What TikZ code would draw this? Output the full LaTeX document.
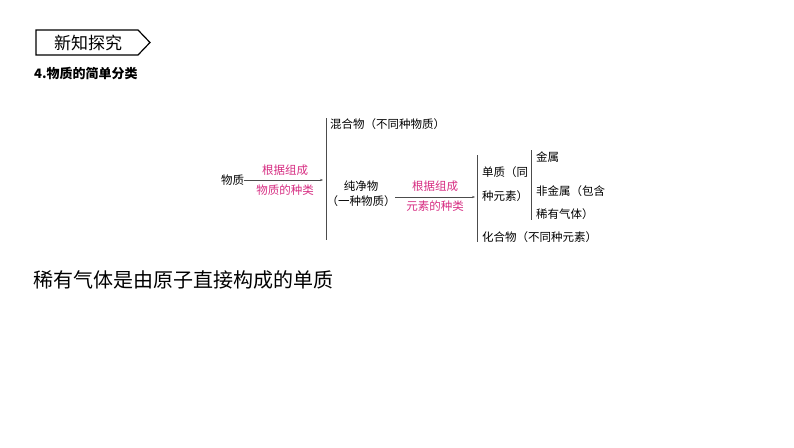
\documentclass[tikz,border=0pt]{standalone}
\usepackage{fontspec}
\usetikzlibrary{arrows.meta}
\newfontfamily\cjk{Noto Sans CJK SC}
\newfontfamily\cjkb{Noto Sans CJK SC Bold}
\definecolor{pinkc}{RGB}{215,45,130}
\begin{document}
\begin{tikzpicture}[x=1pt,y=-1pt,
  t/.style={font=\cjk\fontsize{11.5}{12}\selectfont,inner sep=0pt,anchor=west},
  p/.style={font=\cjk\fontsize{11.5}{12}\selectfont,inner sep=0pt,text=pinkc},
  br/.style={draw=black!70,line width=0.5pt},
  ar/.style={draw=black!70,line width=0.5pt,-{Stealth[length=3pt]}}]
\useasboundingbox[fill=white] (0,0) rectangle (794,447);
\draw[line width=1.2pt] (36,30) -- (138,30) -- (150,42.5) -- (138,55) -- (36,55) -- cycle;
\node[font=\cjk\fontsize{17}{18}\selectfont,inner sep=0pt] (ban) at (88,42.5) {新知探究};
\node[font=\cjk\bfseries\fontsize{13}{14}\selectfont,inner sep=0pt,anchor=west] (ttl) at (34,74) {4.物质的简单分类};
\node[t] (wz) at (221,180) {物质};
\coordinate (b1) at (323,180);
\draw[ar] (wz.east) -- (b1);
\node[p] (p1) at (285,170) {根据组成};
\node[p] (p2) at (285,190) {物质的种类};
\coordinate (v1a) at (326,118); \coordinate (v1b) at (326,240);
\draw[br] (v1a) -- (v1b);
\node[t] (hh) at (330,124) {混合物（不同种物质）};
\node[t,anchor=center] (cj) at (361,186) {纯净物};
\node[t,anchor=center] (cj2) at (361,201) {（一种物质）};
\coordinate (a2s) at (395,197); \coordinate (a2e) at (475,197);
\draw[ar] (a2s) -- (a2e);
\node[p] (p3) at (435,186) {根据组成};
\node[p] (p4) at (435,206) {元素的种类};
\coordinate (v2a) at (477,155); \coordinate (v2b) at (477,242);
\draw[br] (v2a) -- (v2b);
\node[t] (dz) at (482,172) {单质（同};
\node[t] (dz2) at (482,196) {种元素）};
\coordinate (v3a) at (531,150); \coordinate (v3b) at (531,220);
\draw[br] (v3a) -- (v3b);
\node[t] (js) at (536,157) {金属};
\node[t] (fj) at (536,191) {非金属（包含};
\node[t] (xy) at (536,214) {稀有气体）};
\node[t] (hw) at (482,237) {化合物（不同种元素）};
\node[font=\cjk\fontsize{20}{22}\selectfont,inner sep=0pt,anchor=west] (big) at (33,280) {稀有气体是由原子直接构成的单质};
\end{tikzpicture}
\end{document}
